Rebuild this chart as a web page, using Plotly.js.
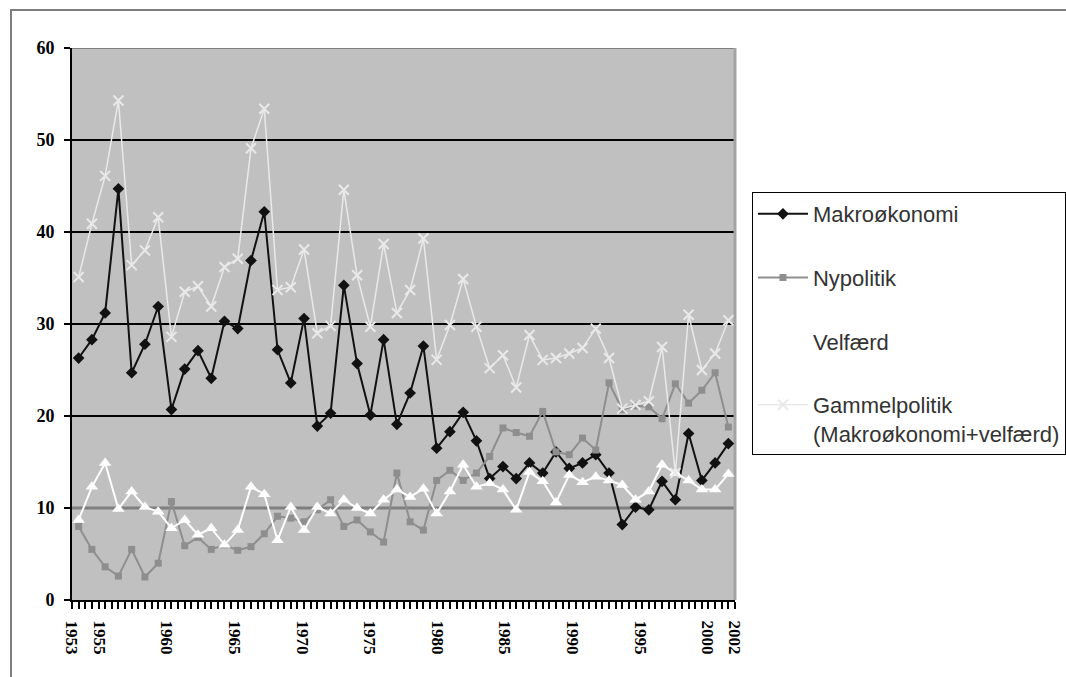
<!DOCTYPE html>
<html>
<head>
<meta charset="utf-8">
<script src="https://cdn.plot.ly/plotly-3.0.1.min.js"></script>
<style>
html,body{margin:0;padding:0;background:#ffffff;overflow:hidden;}
#chart{width:1110px;height:677px;}
#frame{position:absolute;left:10px;top:9px;width:1100px;height:700px;border-left:2px solid #7d7d7d;border-top:2px solid #7d7d7d;pointer-events:none;}
</style>
</head>
<body>
<div id="chart"></div>
<div id="frame"></div>
<script>
const years = [1953,1954,1955,1956,1957,1958,1959,1960,1961,1962,1963,1964,1965,1966,1967,1968,1969,1970,1971,1972,1973,1974,1975,1976,1977,1978,1979,1980,1981,1982,1983,1984,1985,1986,1987,1988,1989,1990,1991,1992,1993,1994,1995,1996,1997,1998,1999,2000,2001,2002];

const makrookonomi = [26.3,28.3,31.2,44.7,24.7,27.8,31.9,20.7,25.1,27.1,24.1,30.3,29.5,36.9,42.2,27.2,23.6,30.6,18.9,20.3,34.2,25.7,20.1,28.3,19.1,22.5,27.6,16.5,18.3,20.4,17.3,13.2,14.5,13.2,14.9,13.8,16.1,14.3,14.9,15.8,13.8,8.2,10.1,9.8,12.9,10.9,18.1,13.0,14.9,17.0];

const nypolitik = [8.0,5.5,3.6,2.6,5.5,2.5,4.0,10.7,5.9,6.8,5.5,6.0,5.4,5.8,7.2,9.1,8.9,8.5,9.8,10.9,8.0,8.7,7.4,6.3,13.8,8.5,7.6,13.0,14.1,13.0,13.8,15.6,18.7,18.2,17.8,20.5,16.1,15.8,17.6,16.3,23.6,20.7,21.1,21.0,19.7,23.5,21.4,22.8,24.7,18.8];

const velfaerd = [8.7,12.3,14.9,9.9,11.8,10.1,9.6,7.8,8.7,7.1,7.8,6.0,7.6,12.3,11.5,6.5,10.1,7.6,10.1,9.4,10.9,10.0,9.4,10.9,12.0,11.2,12.1,9.4,11.8,14.7,12.3,12.7,12.0,9.8,13.9,12.9,10.6,13.6,12.8,13.4,13.0,12.5,10.9,11.8,14.7,13.8,13.0,12.0,12.0,13.7];

const gammelpolitik = [35.1,40.9,46.1,54.3,36.4,38.0,41.6,28.6,33.5,34.1,31.9,36.2,37.1,49.1,53.4,33.7,34.0,38.1,29.0,29.8,44.6,35.3,29.7,38.7,31.2,33.7,39.3,26.1,29.9,34.9,29.7,25.2,26.6,23.1,28.8,26.1,26.3,26.8,27.4,29.5,26.3,20.8,21.2,21.6,27.5,13.8,31.0,25.0,26.8,30.4];

const seriesNames = ["Makroøkonomi","Nypolitik","Velfærd","Gammelpolitik<br>(Makroøkonomi+velfærd)"];
const yTicks = [0,10,20,30,40,50,60];
const xLabelYears = [1953,1955,1960,1965,1970,1975,1980,1985,1990,1995,2000,2002];

// category labels sit on the category boundaries (spread over the full axis width)
const first = years[0], last = years[years.length-1], n = years.length;
const xLabelPos = xLabelYears.map(y => (first - 0.5) + (y - first) * n / (n - 1));

const traces = [
  {x: years, y: makrookonomi, name: seriesNames[0], type: 'scatter', mode: 'lines+markers', legendgroup: 'a',
   line: {color: '#111111', width: 2}, marker: {symbol: 'diamond', size: 9, color: '#111111'}},
  {x: years, y: nypolitik, name: seriesNames[1], type: 'scatter', mode: 'lines+markers', legendgroup: 'b',
   line: {color: '#8e8e8e', width: 2}, marker: {symbol: 'square', size: 7, color: '#8e8e8e'}},
  {x: years, y: velfaerd, name: seriesNames[2], type: 'scatter', mode: 'lines+markers', legendgroup: 'c',
   line: {color: '#ffffff', width: 2}, marker: {symbol: 'triangle-up', size: 11, color: '#ffffff'}},
  {x: years, y: gammelpolitik, name: seriesNames[3], type: 'scatter', mode: 'lines+markers', legendgroup: 'd',
   line: {color: '#e9e9e9', width: 1.5}, marker: {symbol: 'x-thin', size: 10, line: {color: '#e9e9e9', width: 2}}}
];

const shapes = [];
yTicks.forEach(v => {
  if (v === 0) return;
  let color = '#000000', width = 2;
  if (v === 10) { color = '#7f7f7f'; width = 3; }
  if (v === 60) { color = '#808080'; width = 2; }
  shapes.push({type: 'line', xref: 'paper', yref: 'y', x0: 0, x1: 1, y0: v, y1: v, layer: 'below',
               line: {color: color, width: width}});
});
shapes.push({type: 'line', xref: 'paper', yref: 'paper', x0: 1, x1: 1, y0: 0, y1: 1, layer: 'below',
             line: {color: '#a3a3a3', width: 3}});

const layout = {
  width: 1110, height: 677,
  margin: {l: 72, r: 375, t: 48, b: 77},
  paper_bgcolor: '#ffffff',
  plot_bgcolor: '#c0c0c0',
  showlegend: true,
  shapes: shapes,
  xaxis: {
    range: [first - 0.5, last + 0.5],
    tickmode: 'array', tickvals: xLabelPos, ticktext: xLabelYears.map(String),
    tickangle: 90,
    ticks: 'outside', ticklen: 7, tickwidth: 2, tickcolor: 'rgba(0,0,0,0)',
    ticklabelstandoff: 8,
    minor: {tickmode: 'linear', tick0: first - 0.5, dtick: 0.5, ticks: 'outside', ticklen: 7, tickwidth: 2, tickcolor: '#000000', showgrid: false},
    showgrid: false, zeroline: false,
    showline: true, linecolor: '#000000', linewidth: 2,
    tickfont: {family: 'Liberation Serif, Times New Roman, serif', size: 17, color: '#000000', weight: 'bold'}
  },
  yaxis: {
    range: [0, 60],
    tickmode: 'array', tickvals: yTicks,
    ticks: 'outside', ticklen: 6, tickwidth: 2, tickcolor: '#000000',
    showgrid: false, zeroline: false,
    showline: true, linecolor: '#000000', linewidth: 2,
    ticklabelstandoff: 6,
    tickfont: {family: 'Liberation Serif, Times New Roman, serif', size: 18, color: '#000000', weight: 'bold'}
  },
  legend: {
    x: 1.0256, y: 0.739, xanchor: 'left', yanchor: 'top',
    bgcolor: '#ffffff', bordercolor: '#000000', borderwidth: 1,
    font: {family: 'Liberation Sans, Arial, sans-serif', size: 22, color: '#333333'},
    tracegroupgap: 32, itemwidth: 50, valign: 'top'
  }
};

Plotly.newPlot('chart', traces, layout, {displayModeBar: false, staticPlot: true});
</script>
</body>
</html>
